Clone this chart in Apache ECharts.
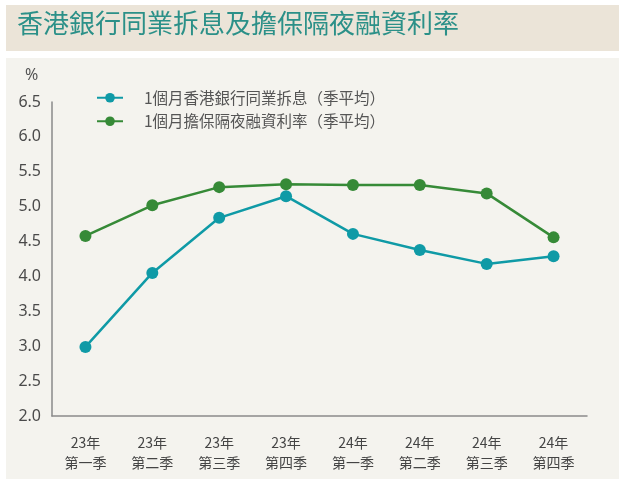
<!DOCTYPE html>
<html><head><meta charset="utf-8">
<script src="https://cdn.jsdelivr.net/npm/echarts@6/dist/echarts.min.js"></script>
<style>html,body{margin:0;padding:0;background:#fff;}#c{width:619px;height:479px;}</style>
</head><body><div id="c"></div>
<script>
const title = '香港銀行同業拆息及擔保隔夜融資利率';
const categories = ['23年\n第一季','23年\n第二季','23年\n第三季','23年\n第四季','24年\n第一季','24年\n第二季','24年\n第三季','24年\n第四季'];
const hiborName = '1個月香港銀行同業拆息（季平均）';
const hiborValues = [2.99, 4.05, 4.84, 5.15, 4.61, 4.38, 4.18, 4.29];
const lofName = '1個月擔保隔夜融資利率（季平均）';
const lofValues = [4.58, 5.02, 5.28, 5.32, 5.31, 5.31, 5.19, 4.56];
const yTicks = [2.0, 2.5, 3.0, 3.5, 4.0, 4.5, 5.0, 5.5, 6.0, 6.5];

const font = '"Noto Sans CJK TC", "Noto Sans", sans-serif';
const chart = echarts.init(document.getElementById('c'));
chart.setOption({
  backgroundColor: '#ffffff',
  animation: false,
  graphic: [
    {type:'rect', shape:{x:6,y:5,width:613,height:46}, style:{fill:'#ebe4d8'}, z:-10},
    {type:'rect', shape:{x:6,y:58,width:613,height:421}, style:{fill:'#f4f3ee'}, z:-10},
    {type:'text', left:17, top:10, style:{text:title, fill:'#2b9088', font:'26px "Noto Sans CJK TC", sans-serif'}},
    {type:'text', left:25, top:67, style:{text:'%', fill:'#555', font:'16px "Noto Sans", sans-serif'}}
  ],
  legend: {
    orient:'vertical', left:91, top:85, itemWidth:26, itemHeight:12, itemGap:8,
    textStyle:{color:'#555', fontSize:15.5, fontFamily:font, padding:[0,0,0,16]},
    data:[hiborName, lofName]
  },
  grid: {left:52, right:32, top:102, bottom:63},
  xAxis: {
    type:'category', data:categories, boundaryGap:true,
    axisLine:{lineStyle:{color:'#8a8a8a', width:1.5}},
    axisTick:{show:false},
    axisLabel:{color:'#444', fontSize:14, fontFamily:font, margin:17, lineHeight:20}
  },
  yAxis: {
    type:'value', min:2.0, max:6.5, interval:0.5,
    axisLine:{show:true, lineStyle:{color:'#8a8a8a', width:1.5}},
    axisTick:{show:false}, splitLine:{show:false},
    axisLabel:{color:'#4a4a4a', fontSize:16, fontFamily:'"Noto Sans", sans-serif', margin:11,
      formatter: v => yTicks.includes(v) ? v.toFixed(1) : ''}
  },
  series: [
    {name:hiborName, type:'line', data:hiborValues, color:'#0f9aa6',
     lineStyle:{width:2.5}, symbol:'circle', symbolSize:12, itemStyle:{color:'#0f9aa6'}},
    {name:lofName, type:'line', data:lofValues, color:'#368a37',
     lineStyle:{width:2.5}, symbol:'circle', symbolSize:12, itemStyle:{color:'#368a37'}}
  ]
});
</script></body></html>
